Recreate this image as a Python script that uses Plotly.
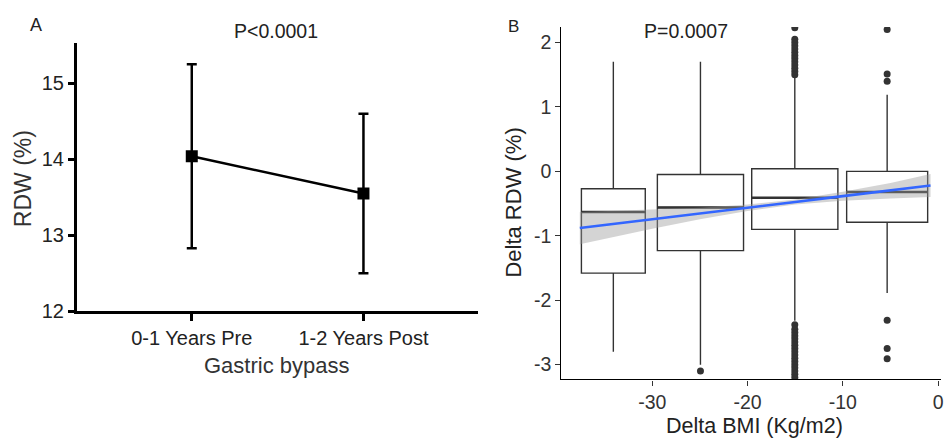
import plotly.graph_objects as go

# Panel A: mean RDW with error bars
periods = ["0-1 Years Pre", "1-2 Years Post"]
rdw_mean = [14.04, 13.55]
rdw_err = [1.21, 1.05]

# Panel B: boxplots of delta RDW grouped by delta BMI
box_x = [-34.08, -24.94, -15.04, -5.35]
box_w = [6.7, 9.04, 9.04, 8.5]
box_q1 = [-1.58, -1.23, -0.90, -0.79]
box_med = [-0.63, -0.56, -0.41, -0.32]
box_q3 = [-0.27, -0.05, 0.04, 0.00]
box_lo = [-2.80, -3.00, -2.32, -1.89]
box_hi = [1.70, 1.70, 1.45, 1.19]

out_box2 = [-3.10]
out_box3 = [1.50, 1.55, 1.60, 1.65, 1.70, 1.75, 1.80, 1.85, 1.90, 1.95, 2.00, 2.05, 2.23,
            -2.38, -2.45, -2.50, -2.55, -2.60, -2.65, -2.70, -2.75, -2.80, -2.85,
            -2.90, -2.95, -3.00, -3.05, -3.10, -3.15, -3.20]
out_box4 = [2.20, 1.51, 1.40, -2.31, -2.75, -2.91]

# linear fit and its confidence band
fit_x = [-37.6, -30, -25, -20, -15, -10, -5, -0.8]
fit_y = [-0.88, -0.74, -0.655, -0.565, -0.475, -0.385, -0.30, -0.22]
fit_lo = [-1.13, -0.89, -0.745, -0.615, -0.515, -0.455, -0.42, -0.40]
fit_hi = [-0.63, -0.59, -0.565, -0.515, -0.435, -0.315, -0.18, -0.04]

bmi_ticks = [-30, -20, -10, 0]
bmi_labels = ["-30", "-20", "-10", "0"]
drdw_ticks = [-3, -2, -1, 0, 1, 2]
drdw_labels = ["-3", "-2", "-1", "0", "1", "2"]

FONT = "Liberation Sans, Arial, sans-serif"
W, H = 944, 438
YK = 1.027  # vertical correction measured on an earlier render


def px_x(x):
    return x / W


def px_y(y):
    return 1 - y * YK / H


fig = go.Figure()

# ---- panel A
fig.add_trace(go.Scatter(
    x=[0, 1], y=rdw_mean, mode="lines+markers",
    line=dict(color="black", width=2.5),
    marker=dict(symbol="square", size=12, color="black"),
    error_y=dict(type="data", array=rdw_err, color="black", thickness=2.5, width=5),
    xaxis="x", yaxis="y", showlegend=False,
))

# ---- panel B
for i in range(len(box_x)):
    fig.add_trace(go.Box(
        x=[box_x[i]], q1=[box_q1[i]], median=[box_med[i]], q3=[box_q3[i]],
        lowerfence=[box_lo[i]], upperfence=[box_hi[i]],
        width=box_w[i], boxpoints=False, whiskerwidth=0,
        fillcolor="white", line=dict(color="#333333", width=1.4),
        xaxis="x2", yaxis="y2", showlegend=False, hoverinfo="skip",
    ))
    # thicker median line like ggplot
    fig.add_trace(go.Scatter(
        x=[box_x[i] - box_w[i] / 2, box_x[i] + box_w[i] / 2],
        y=[box_med[i], box_med[i]], mode="lines",
        line=dict(color="#333333", width=2.6),
        xaxis="x2", yaxis="y2", showlegend=False,
    ))

out_x = [box_x[1]] * len(out_box2) + [box_x[2]] * len(out_box3) + [box_x[3]] * len(out_box4)
out_y = out_box2 + out_box3 + out_box4
fig.add_trace(go.Scatter(
    x=out_x, y=out_y, mode="markers",
    marker=dict(size=7, color="#333333"),
    xaxis="x2", yaxis="y2", showlegend=False,
))

fig.add_trace(go.Scatter(
    x=fit_x + fit_x[::-1], y=fit_hi + fit_lo[::-1], fill="toself",
    fillcolor="rgba(153,153,153,0.42)", line=dict(width=0), mode="lines",
    xaxis="x2", yaxis="y2", showlegend=False, hoverinfo="skip",
))
fig.add_trace(go.Scatter(
    x=fit_x, y=fit_y, mode="lines", line=dict(color="#3366FF", width=2.6),
    xaxis="x2", yaxis="y2", showlegend=False,
))

axis_a = dict(showline=True, linecolor="black", linewidth=2.5, ticks="outside",
              tickcolor="black", tickwidth=2.5, showgrid=False, zeroline=False,
              tickfont=dict(family=FONT, size=20, color="#222222"))
axis_b = dict(showline=True, linecolor="black", linewidth=1.1, ticks="outside",
              tickcolor="#333333", tickwidth=1.1, ticklen=5, showgrid=False,
              zeroline=False, tickfont=dict(family=FONT, size=19.5, color="#333333"))

fig.update_layout(
    width=W, height=H,
    margin=dict(l=0, r=0, t=0, b=0),
    paper_bgcolor="white", plot_bgcolor="white",
    boxmode="overlay",
    xaxis=dict(axis_a, domain=[px_x(77), px_x(480)], range=[-0.67, 1.67],
               tickvals=[0, 1], ticktext=periods, ticklen=7, anchor="y"),
    yaxis=dict(axis_a, domain=[px_y(311), px_y(43)], range=[12, 15.53],
               tickvals=[12, 13, 14, 15], ticklen=6, anchor="x"),
    xaxis2=dict(axis_b, domain=[px_x(563), 1.0], range=[-39.55, 0.3],
                tickvals=bmi_ticks, ticktext=bmi_labels, ticklabeloverflow="allow",
                anchor="y2"),
    yaxis2=dict(axis_b, domain=[px_y(379), px_y(27)], range=[-3.23, 2.24],
                tickvals=drdw_ticks, ticktext=drdw_labels, anchor="x2"),
    annotations=[
        dict(text="A", x=36, y=25, font=dict(size=18, color="#222222")),
        dict(text="P<0.0001", x=277, y=31, font=dict(size=19.5, color="#222222")),
        dict(text="Gastric bypass", x=278, y=365, font=dict(size=22, color="#333333")),
        dict(text="RDW (%)", x=23, y=178, textangle=-90, font=dict(size=23, color="#333333")),
        dict(text="B", x=515, y=26, font=dict(size=17, color="#222222")),
        dict(text="P=0.0007", x=688, y=31, font=dict(size=19.5, color="#222222")),
        dict(text="Delta BMI (Kg/m2)", x=757, y=425, font=dict(size=21.5, color="#222222")),
        dict(text="Delta RDW (%)", x=515, y=202, textangle=-90, font=dict(size=22, color="#222222")),
    ],
)

# annotation positions are given in page pixels from the top-left corner
for a in fig.layout.annotations:
    a.update(x=px_x(a.x), y=px_y(a.y), xref="paper", yref="paper",
             showarrow=False, xanchor="center", yanchor="middle")
    a.font.family = FONT

# drop the default 8px page margin so the figure fills the window
fig.write_html("out.html", config={"displayModeBar": False},
               post_script="document.body.style.margin = '0';")
